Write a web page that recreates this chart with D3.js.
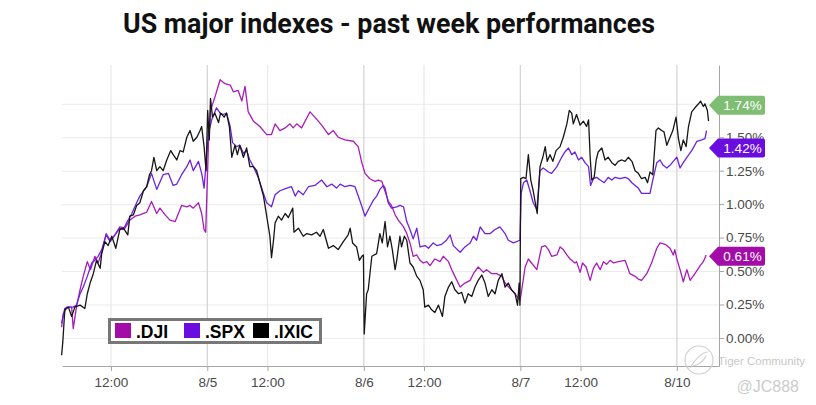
<!DOCTYPE html>
<head>
  <meta charset="utf-8">
  <script src="https://d3js.org/d3.v7.min.js"></script>
  <style>
    body { margin:0; background:#fff; }
    svg { display:block; }
    .grid line { stroke:#ebebeb; }
    .grid path { display:none; }
    .axis text { font: 13.5px "Liberation Sans", Arial, sans-serif; fill:#4a4a4a; }
    .axis line, .axis path { stroke:#a5a5a5; }
  </style>
</head>
<body>
  <svg id="chart"></svg>
  <script>
  // x values are trading minutes since 8/4 9:30 (390 minutes per session)
  var xTicks = [150, 390, 540, 780, 930, 1170, 1320, 1560];
  var xTickLabels = ["12:00", "8/5", "12:00", "8/6", "12:00", "8/7", "12:00", "8/10"];
  var dayTicks = [390, 780, 1170, 1560];
  var yTicks = [0, 0.25, 0.5, 0.75, 1, 1.25, 1.5, 1.75];
  // the 1.75% label sits under the .IXIC flag in the reference
  var hiddenYLabels = [1.75];

  var seriesNames = [".DJI", ".SPX", ".IXIC"];
  var seriesColors = ["#a81cb8", "#6e22dc", "#161616"];
  var lastLabels = [0.61, 1.42, 1.74];
  var flagColors = ["#a40ca8", "#6a0ee0", "#7fbd72"];

  var dji = [[27,0.08],[31,0.18],[40,0.23],[52,0.23],[56,0.07],[64,0.23],[73,0.36],[81,0.46],[91,0.57],[99,0.51],[110,0.61],[118,0.56],[127,0.64],[138,0.78],[148,0.73],[160,0.77],[172,0.83],[185,0.82],[197,0.88],[210,0.91],[222,0.92],[239,0.94],[251,1.02],[264,0.93],[272,0.97],[285,0.92],[297,0.88],[310,0.87],[326,0.99],[339,0.98],[347,0.99],[355,0.97],[368,1.01],[376,0.93],[382,0.81],[386,0.79],
    [393,1.46],[398,1.70],[409,1.80],[422,1.93],[434,1.90],[447,1.89],[455,1.84],[467,1.85],[476,1.77],[484,1.88],[492,1.69],[505,1.62],[521,1.58],[538,1.52],[550,1.52],[559,1.60],[571,1.55],[584,1.57],[596,1.60],[604,1.57],[613,1.60],[625,1.57],[646,1.69],[658,1.65],[675,1.59],[692,1.52],[704,1.55],[716,1.50],[733,1.48],[754,1.47],[766,1.43],[775,1.31],
    [783,1.23],[795,1.19],[808,1.17],[816,1.18],[825,1.17],[829,1.13],[837,1.06],[841,1.02],[849,0.99],[858,0.92],[866,0.88],[879,0.83],[887,0.78],[895,0.71],[903,0.61],[912,0.62],[920,0.58],[928,0.56],[937,0.57],[945,0.54],[957,0.59],[970,0.57],[978,0.61],[991,0.57],[999,0.51],[1007,0.46],[1020,0.38],[1032,0.41],[1045,0.43],[1053,0.48],[1065,0.53],[1078,0.49],[1086,0.51],[1099,0.48],[1111,0.48],[1124,0.46],[1132,0.41],[1144,0.37],[1157,0.33],[1169,0.28],
    [1172,0.33],[1182,0.53],[1190,0.59],[1198,0.56],[1211,0.51],[1223,0.68],[1232,0.69],[1240,0.66],[1248,0.61],[1261,0.62],[1269,0.68],[1277,0.66],[1286,0.62],[1294,0.59],[1306,0.56],[1310,0.57],[1319,0.49],[1325,0.56],[1334,0.53],[1344,0.43],[1352,0.52],[1360,0.56],[1369,0.51],[1377,0.57],[1385,0.55],[1394,0.58],[1402,0.56],[1414,0.57],[1431,0.58],[1443,0.48],[1456,0.46],[1464,0.44],[1472,0.43],[1485,0.48],[1497,0.56],[1510,0.67],[1518,0.71],[1531,0.70],[1543,0.67],[1551,0.62],[1555,0.66],[1560,0.59],[1568,0.51],[1576,0.42],[1585,0.51],[1593,0.43],[1605,0.48],[1618,0.54],[1626,0.57],[1633,0.62]];

  var spx = [[27,0.11],[35,0.22],[44,0.23],[56,0.23],[64,0.245],[73,0.33],[81,0.38],[91,0.46],[102,0.56],[110,0.58],[118,0.61],[127,0.66],[138,0.77],[148,0.72],[160,0.77],[172,0.82],[181,0.81],[189,0.86],[202,0.93],[214,1.01],[222,1.06],[239,1.13],[251,1.23],[264,1.11],[280,1.22],[293,1.23],[305,1.14],[314,1.15],[326,1.22],[339,1.28],[347,1.33],[355,1.25],[368,1.32],[376,1.23],[382,1.12],
    [393,1.53],[401,1.63],[413,1.72],[422,1.68],[430,1.67],[438,1.68],[447,1.58],[453,1.46],[463,1.43],[471,1.44],[480,1.38],[488,1.40],[496,1.33],[505,1.28],[517,1.20],[530,1.08],[538,1.01],[550,0.98],[559,1.07],[571,1.10],[588,1.12],[600,1.13],[609,1.06],[617,1.10],[629,1.07],[642,1.13],[658,1.14],[675,1.18],[688,1.13],[700,1.15],[712,1.12],[721,1.15],[733,1.13],[746,1.14],[758,1.13],[771,1.02],
    [783,0.91],[795,0.98],[804,1.03],[812,1.06],[820,1.11],[829,1.14],[833,1.12],[841,1.01],[849,0.97],[862,0.98],[870,0.99],[879,0.98],[887,0.87],[895,0.81],[903,0.74],[912,0.82],[920,0.68],[933,0.69],[941,0.67],[953,0.71],[962,0.69],[974,0.70],[986,0.73],[995,0.77],[1003,0.69],[1020,0.64],[1032,0.68],[1045,0.71],[1053,0.76],[1061,0.73],[1070,0.83],[1082,0.78],[1095,0.78],[1107,0.81],[1119,0.83],[1132,0.78],[1140,0.73],[1153,0.71],[1169,0.73],
    [1172,1.08],[1178,1.16],[1186,1.18],[1194,1.10],[1202,1.01],[1211,0.96],[1219,1.25],[1227,1.27],[1240,1.24],[1248,1.23],[1261,1.28],[1273,1.35],[1281,1.39],[1290,1.42],[1298,1.37],[1306,1.39],[1315,1.33],[1323,1.35],[1331,1.31],[1340,1.28],[1345,1.14],[1352,1.19],[1360,1.20],[1369,1.18],[1379,1.16],[1389,1.20],[1398,1.18],[1406,1.20],[1418,1.19],[1431,1.20],[1439,1.19],[1448,1.16],[1456,1.14],[1464,1.12],[1472,1.08],[1485,1.08],[1493,1.08],[1500,1.18],[1510,1.31],[1518,1.33],[1526,1.29],[1535,1.27],[1543,1.29],[1551,1.32],[1560,1.35],[1568,1.27],[1576,1.31],[1585,1.35],[1597,1.40],[1610,1.47],[1622,1.48],[1630,1.49],[1634,1.55]];

  var ixic = [[27,-0.13],[30,-0.03],[35,0.21],[44,0.23],[52,0.16],[60,0.23],[73,0.245],[85,0.22],[91,0.33],[98,0.41],[106,0.48],[114,0.58],[123,0.52],[127,0.63],[135,0.72],[143,0.69],[152,0.76],[162,0.67],[172,0.81],[181,0.82],[192,0.77],[197,0.91],[206,0.92],[214,0.99],[222,1.01],[231,1.10],[239,1.13],[246,1.22],[251,1.25],[257,1.35],[264,1.25],[272,1.28],[280,1.25],[289,1.33],[299,1.40],[305,1.37],[314,1.33],[322,1.40],[330,1.39],[339,1.50],[347,1.55],[355,1.47],[364,1.50],[372,1.55],[376,1.58],[382,1.43],[387,1.25],
    [391,1.70],[395,1.48],[398,1.79],[403,1.65],[409,1.68],[418,1.61],[423,1.68],[432,1.65],[438,1.68],[445,1.58],[451,1.35],[459,1.44],[465,1.37],[471,1.44],[480,1.35],[488,1.42],[496,1.28],[505,1.28],[513,1.25],[521,1.16],[530,1.06],[538,0.91],[546,0.76],[550,0.60],[555,0.73],[559,0.86],[567,0.91],[575,0.88],[584,0.93],[592,0.90],[603,0.97],[606,0.79],[617,0.82],[629,0.76],[638,0.78],[650,0.77],[662,0.79],[671,0.76],[679,0.81],[692,0.67],[704,0.69],[716,0.66],[729,0.72],[741,0.77],[746,0.82],[752,0.71],[762,0.68],[769,0.58],[775,0.61],[779,0.62],
    [781,0.03],[787,0.33],[791,0.36],[800,0.61],[812,0.63],[820,0.78],[826,0.71],[833,0.87],[839,0.68],[845,0.76],[851,0.66],[858,0.51],[862,0.58],[870,0.76],[874,0.68],[881,0.76],[887,0.73],[895,0.56],[903,0.53],[912,0.46],[920,0.43],[928,0.36],[932,0.23],[941,0.245],[949,0.21],[957,0.19],[966,0.245],[976,0.16],[982,0.31],[991,0.38],[999,0.42],[1007,0.36],[1016,0.33],[1024,0.34],[1032,0.26],[1040,0.33],[1049,0.31],[1057,0.38],[1065,0.43],[1074,0.47],[1082,0.41],[1090,0.31],[1099,0.36],[1107,0.33],[1115,0.43],[1124,0.48],[1132,0.38],[1140,0.41],[1148,0.36],[1157,0.33],[1163,0.245],[1167,0.41],[1169,0.245],
    [1171,1.19],[1178,1.20],[1184,1.19],[1190,1.37],[1196,1.18],[1202,1.10],[1209,0.98],[1212,0.93],[1219,1.28],[1226,1.35],[1232,1.43],[1237,1.32],[1244,1.37],[1251,1.32],[1259,1.40],[1269,1.43],[1277,1.50],[1286,1.60],[1292,1.70],[1298,1.68],[1302,1.60],[1310,1.67],[1319,1.59],[1327,1.62],[1335,1.58],[1340,1.63],[1344,1.35],[1348,1.18],[1354,1.20],[1359,1.33],[1364,1.39],[1373,1.42],[1381,1.33],[1389,1.35],[1398,1.31],[1406,1.29],[1414,1.32],[1423,1.33],[1431,1.32],[1439,1.35],[1448,1.32],[1456,1.25],[1464,1.23],[1472,1.19],[1481,1.20],[1487,1.16],[1493,1.24],[1500,1.22],[1508,1.55],[1514,1.57],[1522,1.55],[1528,1.54],[1535,1.44],[1543,1.50],[1550,1.55],[1558,1.65],[1564,1.49],[1570,1.40],[1576,1.48],[1583,1.43],[1589,1.58],[1597,1.69],[1605,1.72],[1614,1.75],[1619,1.77],[1626,1.73],[1630,1.75],[1636,1.70],[1639,1.62]];

  var allSeries = [dji, spx, ixic];

  var width = 816, height = 405;
  var margin = {top: 65, right: 97, bottom: 39, left: 62};
  var plotW = width - margin.left - margin.right;
  var plotH = height - margin.top - margin.bottom;

  var svg = d3.select("#chart")
    .attr("width", width)
    .attr("height", height);

  // title
  svg.append("text")
    .attr("x", 389)
    .attr("y", 33)
    .attr("text-anchor", "middle")
    .attr("textLength", 532)
    .attr("lengthAdjust", "spacingAndGlyphs")
    .style("font", "700 27px Roboto, 'Liberation Sans', sans-serif")
    .style("fill", "#111")
    .text("US major indexes - past week performances");

  var g = svg.append("g")
    .attr("transform", "translate(" + margin.left + "," + margin.top + ")");

  var x = d3.scaleLinear().domain([28, 1665]).range([0, plotW]);
  var y = d3.scaleLinear().domain([-0.21, 2.04]).range([plotH, 0]);

  // horizontal grid
  g.append("g")
    .attr("class", "grid")
    .call(d3.axisLeft(y).tickValues(yTicks).tickSize(-plotW).tickFormat(""));

  // vertical grid, day lines a bit darker
  g.append("g").selectAll("line")
    .data(xTicks)
    .enter().append("line")
    .attr("x1", function(d) { return x(d); })
    .attr("x2", function(d) { return x(d); })
    .attr("y1", 0)
    .attr("y2", plotH)
    .attr("stroke", function(d) { return dayTicks.indexOf(d) >= 0 ? "#d2d2d2" : "#e8e8e8"; })
    .attr("stroke-width", 1.2);

  // axes
  g.append("g")
    .attr("class", "axis")
    .attr("transform", "translate(0," + plotH + ")")
    .call(d3.axisBottom(x)
      .tickValues(xTicks)
      .tickFormat(function(d, i) { return xTickLabels[i]; })
      .tickSize(5)
      .tickSizeOuter(0)
      .tickPadding(6));

  g.append("g")
    .attr("class", "axis")
    .attr("transform", "translate(" + plotW + ",0)")
    .call(d3.axisRight(y)
      .tickValues(yTicks)
      .tickFormat(function(d) { return hiddenYLabels.indexOf(d) >= 0 ? "" : d.toFixed(2) + "%"; })
      .tickSize(5)
      .tickSizeOuter(0)
      .tickPadding(2));

  // lines
  var line = d3.line()
    .x(function(d) { return x(d[0]); })
    .y(function(d) { return y(d[1]); });

  allSeries.forEach(function(s, i) {
    g.append("path")
      .attr("d", line(s))
      .attr("fill", "none")
      .attr("stroke", seriesColors[i])
      .attr("stroke-width", 1.3)
      .attr("stroke-linejoin", "round");
  });

  // last value flags on the right axis
  lastLabels.forEach(function(v, i) {
    var yv = y(v);
    var tip = plotW - 10, left = plotW - 1, right = plotW + 46, h = 9.5;
    g.append("path")
      .attr("d", "M" + tip + "," + yv + "L" + left + "," + (yv - h) + "L" + (right - 2) + "," + (yv - h) +
        "Q" + right + "," + (yv - h) + " " + right + "," + (yv - h + 2) + "L" + right + "," + (yv + h - 2) +
        "Q" + right + "," + (yv + h) + " " + (right - 2) + "," + (yv + h) + "L" + left + "," + (yv + h) + "Z")
      .attr("fill", flagColors[i]);
    g.append("text")
      .attr("x", (left + right) / 2 + 1)
      .attr("y", yv)
      .attr("dy", "0.36em")
      .attr("text-anchor", "middle")
      .style("font", "13.5px 'Liberation Sans', Arial, sans-serif")
      .style("fill", "#fff")
      .text(v.toFixed(2) + "%");
  });

  // legend
  var legend = svg.append("g");
  legend.append("rect")
    .attr("x", 109.5).attr("y", 319.5)
    .attr("width", 211).attr("height", 23)
    .attr("fill", "#fff")
    .attr("stroke", "#777")
    .attr("stroke-width", 3);
  var legendX = [115, 184, 253];
  seriesNames.forEach(function(name, i) {
    legend.append("rect")
      .attr("x", legendX[i]).attr("y", 323)
      .attr("width", 16).attr("height", 15)
      .attr("fill", i == 2 ? "#000" : flagColors[i]);
    legend.append("text")
      .attr("x", legendX[i] + 21)
      .attr("y", 337.5)
      .style("font", "bold 17.5px 'Liberation Sans', Arial, sans-serif")
      .style("fill", "#000")
      .text(name);
  });

  // watermark
  var wm = svg.append("g").style("fill", "none").style("stroke", "#d0d0d0");
  wm.append("circle").attr("cx", 699).attr("cy", 360).attr("r", 14).attr("stroke-width", 1.2);
  wm.append("path").attr("d", "M690,368 Q700,352 708,352 M693,366 Q702,364 706,356").attr("stroke-width", 1.2);
  svg.append("text")
    .attr("x", 718).attr("y", 365)
    .style("font", "11.5px 'Liberation Sans', Arial, sans-serif")
    .style("fill", "#c8c8c8")
    .text("Tiger Community");
  svg.append("text")
    .attr("x", 799).attr("y", 392)
    .attr("text-anchor", "end")
    .style("font", "16px 'Liberation Sans', Arial, sans-serif")
    .style("fill", "#cccccc")
    .text("@JC888");
  </script>
</body>
